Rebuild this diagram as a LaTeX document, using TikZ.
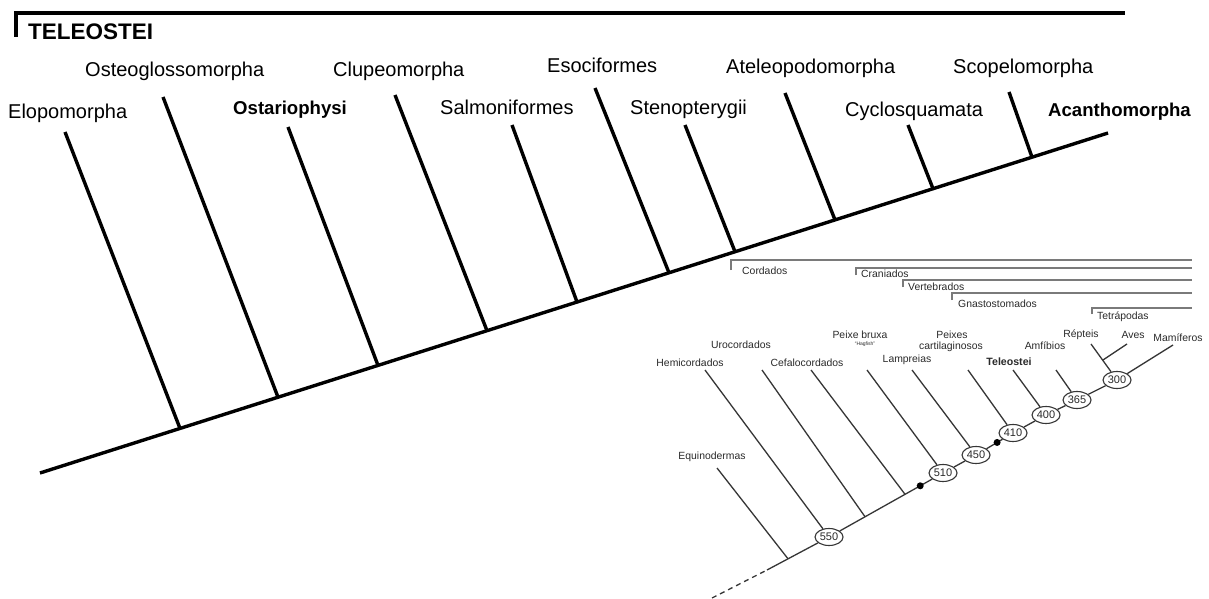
\documentclass[tikz,border=0pt]{standalone}
\usepackage{fontspec}
\setmainfont{Liberation Sans}
\usetikzlibrary{shapes.geometric,calc}
\definecolor{inkgray}{HTML}{363636}
\definecolor{textgray}{HTML}{2A2A2A}
\definecolor{brkgray}{HTML}{7A7A7A}
\begin{document}
\begin{tikzpicture}[x=1pt,y=-1pt,
  bigline/.style={line width=3.4pt},
  biglab/.style={anchor=base west, inner sep=0, font=\fontsize{20}{24}\selectfont},
  boldlab/.style={anchor=base west, inner sep=0, font=\fontsize{18.6}{22}\selectfont\bfseries},
  inl/.style={draw=inkgray, line width=1.3pt},
  inlab/.style={anchor=base, inner sep=0, text=textgray, font=\fontsize{10.4}{12}\selectfont},
  brklab/.style={anchor=base west, inner sep=0, text=textgray, font=\fontsize{10.4}{12}\selectfont},
  age/.style={ellipse, draw=inkgray, line width=1.1pt, fill=white, minimum width=28pt, minimum height=17pt, inner sep=0, text=textgray, font=\fontsize{11}{12}\selectfont},
  dotn/.style={circle, fill=black, minimum size=7pt, inner sep=0},
  brk/.style={draw=brkgray, line width=1.1pt}
]
\useasboundingbox (0,0) rectangle (1209,599);
\fill[white] (0,0) rectangle (1209,599);

% ---------- main tree ----------
\coordinate (barT) at (16,37);
\coordinate (barL) at (16,13);
\coordinate (barR) at (1125,13);
\draw[bigline] (barT) -- (barL) -- (barR);
\node[anchor=base west, inner sep=0, font=\fontsize{22.5}{26}\selectfont\bfseries] (teleo) at (28,40) {TELEOSTEI};

\node[biglab] (lElo) at (8,118) {Elopomorpha};
\node[biglab] (lOst) at (85,77) {Osteoglossomorpha};
\node[boldlab] (lOsta) at (233,115) {Ostariophysi};
\node[biglab] (lClu) at (333,77) {Clupeomorpha};
\node[biglab] (lSal) at (440,115) {Salmoniformes};
\node[biglab] (lEso) at (547,73) {Esociformes};
\node[biglab] (lSte) at (630,115) {Stenopterygii};
\node[biglab] (lAte) at (726,74) {Ateleopodomorpha};
\node[biglab] (lCyc) at (845,117) {Cyclosquamata};
\node[biglab] (lSco) at (953,74) {Scopelomorpha};
\node[boldlab] (lAca) at (1048,117) {Acanthomorpha};

\coordinate (root) at (40,473);
\coordinate (tip) at (1108,133);
\draw[bigline] (root) -- (tip);

\coordinate (tElo) at (65,132);   \coordinate (bElo) at (180,428.4);
\coordinate (tOst) at (163,97);   \coordinate (bOst) at (278,397.2);
\coordinate (tOsta) at (288,127); \coordinate (bOsta) at (378,365.4);
\coordinate (tClu) at (395,95);   \coordinate (bClu) at (487,330.7);
\coordinate (tSal) at (512,125);  \coordinate (bSal) at (577,302.0);
\coordinate (tEso) at (595,88);   \coordinate (bEso) at (669,272.8);
\coordinate (tSte) at (685,125);  \coordinate (bSte) at (735,251.7);
\coordinate (tAte) at (785,93);   \coordinate (bAte) at (835,219.9);
\coordinate (tCyc) at (908,125);  \coordinate (bCyc) at (933,188.7);
\coordinate (tSco) at (1009,92);  \coordinate (bSco) at (1032,157.2);
\foreach \n in {Elo,Ost,Osta,Clu,Sal,Eso,Ste,Ate,Cyc,Sco}
  \draw[bigline] (t\n) -- (b\n);

% ---------- inset: brackets ----------
\coordinate (rE) at (1192,0);
\coordinate (kCor) at (731,260); \coordinate (kCorD) at (731,270);
\coordinate (kCra) at (856,268); \coordinate (kCraD) at (856,275);
\coordinate (kVer) at (903,280); \coordinate (kVerD) at (903,287);
\coordinate (kGna) at (952,293); \coordinate (kGnaD) at (952,300);
\coordinate (kTet) at (1092,308); \coordinate (kTetD) at (1092,314);
\foreach \n in {Cor,Cra,Ver,Gna,Tet}
  \draw[brk] (k\n D) -- (k\n) -- (k\n -| rE);
\node[brklab] (cCor) at (742,274) {Cordados};
\node[brklab] (cCra) at (861,277) {Craniados};
\node[brklab] (cVer) at (908,290) {Vertebrados};
\node[brklab] (cGna) at (958,307) {Gnastostomados};
\node[brklab] (cTet) at (1097,319) {Tetrápodas};

% ---------- inset: labels ----------
\node[inlab] (nHem) at (690,366.6) {Hemicordados};
\node[inlab] (nUro) at (741,348.6) {Urocordados};
\node[inlab] (nCef) at (807,366.6) {Cefalocordados};
\node[inlab] (nPb) at (860,338.6) {Peixe bruxa};
\node[inlab, font=\fontsize{5}{6}\selectfont] (nHag) at (865,345.5) {“Hagfish”};
\node[inlab] (nLam) at (907,362.6) {Lampreias};
\node[inlab] (nPx) at (952,338.6) {Peixes};
\node[inlab] (nCar) at (951,349.6) {cartilaginosos};
\node[inlab, font=\fontsize{10.6}{12}\selectfont\bfseries] (nTel) at (1009,365.6) {Teleostei};
\node[inlab] (nAnf) at (1045,349.6) {Amfíbios};
\node[inlab] (nRep) at (1081,337.6) {Répteis};
\node[inlab] (nAve) at (1133,338.6) {Aves};
\node[inlab] (nMam) at (1178,341.6) {Mamíferos};
\node[inlab] (nEqu) at (712,459.6) {Equinodermas};

% ---------- inset: tree ----------
\node[age] (e550) at (829,537) {550};
\node[age] (e510) at (943,473) {510};
\node[age] (e450) at (976,455) {450};
\node[age] (e410) at (1013,433) {410};
\node[age] (e400) at (1046,415) {400};
\node[age] (e365) at (1077,400) {365};
\node[age] (e300) at (1117,380) {300};

\coordinate (s0) at (712,598);
\coordinate (s1) at (767,570);
\coordinate (eq) at (788,558.8);
\draw[inl, dash pattern=on 5pt off 4pt] (s0) -- (s1);
\draw[inl] (s1) -- (e550);
\draw[inl] (e550) -- (e510);
\draw[inl] (e510) -- (e450);
\draw[inl] (e450) -- (e410);
\draw[inl] (e410) -- (e400);
\draw[inl] (e400) -- (e365);
\draw[inl] (e365) -- (e300);
\node[dotn] (d1) at ($(e550)!0.8!(e510)$) {};
\node[dotn] (d2) at ($(e450)!0.57!(e410)$) {};

\coordinate (tEqu) at (717,468);
\coordinate (tHem) at (705,370);
\coordinate (tUro) at (762,370);
\coordinate (tCef) at (811,370);
\coordinate (tPb) at (867,370);
\coordinate (tLam) at (912,370);
\coordinate (tCar) at (968,370);
\coordinate (tTel) at (1013,370);
\coordinate (tAnf) at (1056,370);
\coordinate (tRep) at (1091,344);
\coordinate (tAve) at (1127,344);
\coordinate (tMam) at (1173,345);
\coordinate (bUro) at ($(e550)!0.316!(e510)$);
\coordinate (bCef) at ($(e550)!0.667!(e510)$);
\coordinate (jAve) at ($(tRep)!0.45!(e300)$);

\draw[inl] (tEqu) -- (eq);
\draw[inl] (tHem) -- (e550);
\draw[inl] (tUro) -- (bUro);
\draw[inl] (tCef) -- (bCef);
\draw[inl] (tPb) -- (e510);
\draw[inl] (tLam) -- (e450);
\draw[inl] (tCar) -- (e410);
\draw[inl] (tTel) -- (e400);
\draw[inl] (tAnf) -- (e365);
\draw[inl] (tRep) -- (e300);
\draw[inl] (tAve) -- (jAve);
\draw[inl] (e300) -- (tMam);
\end{tikzpicture}
\end{document}
